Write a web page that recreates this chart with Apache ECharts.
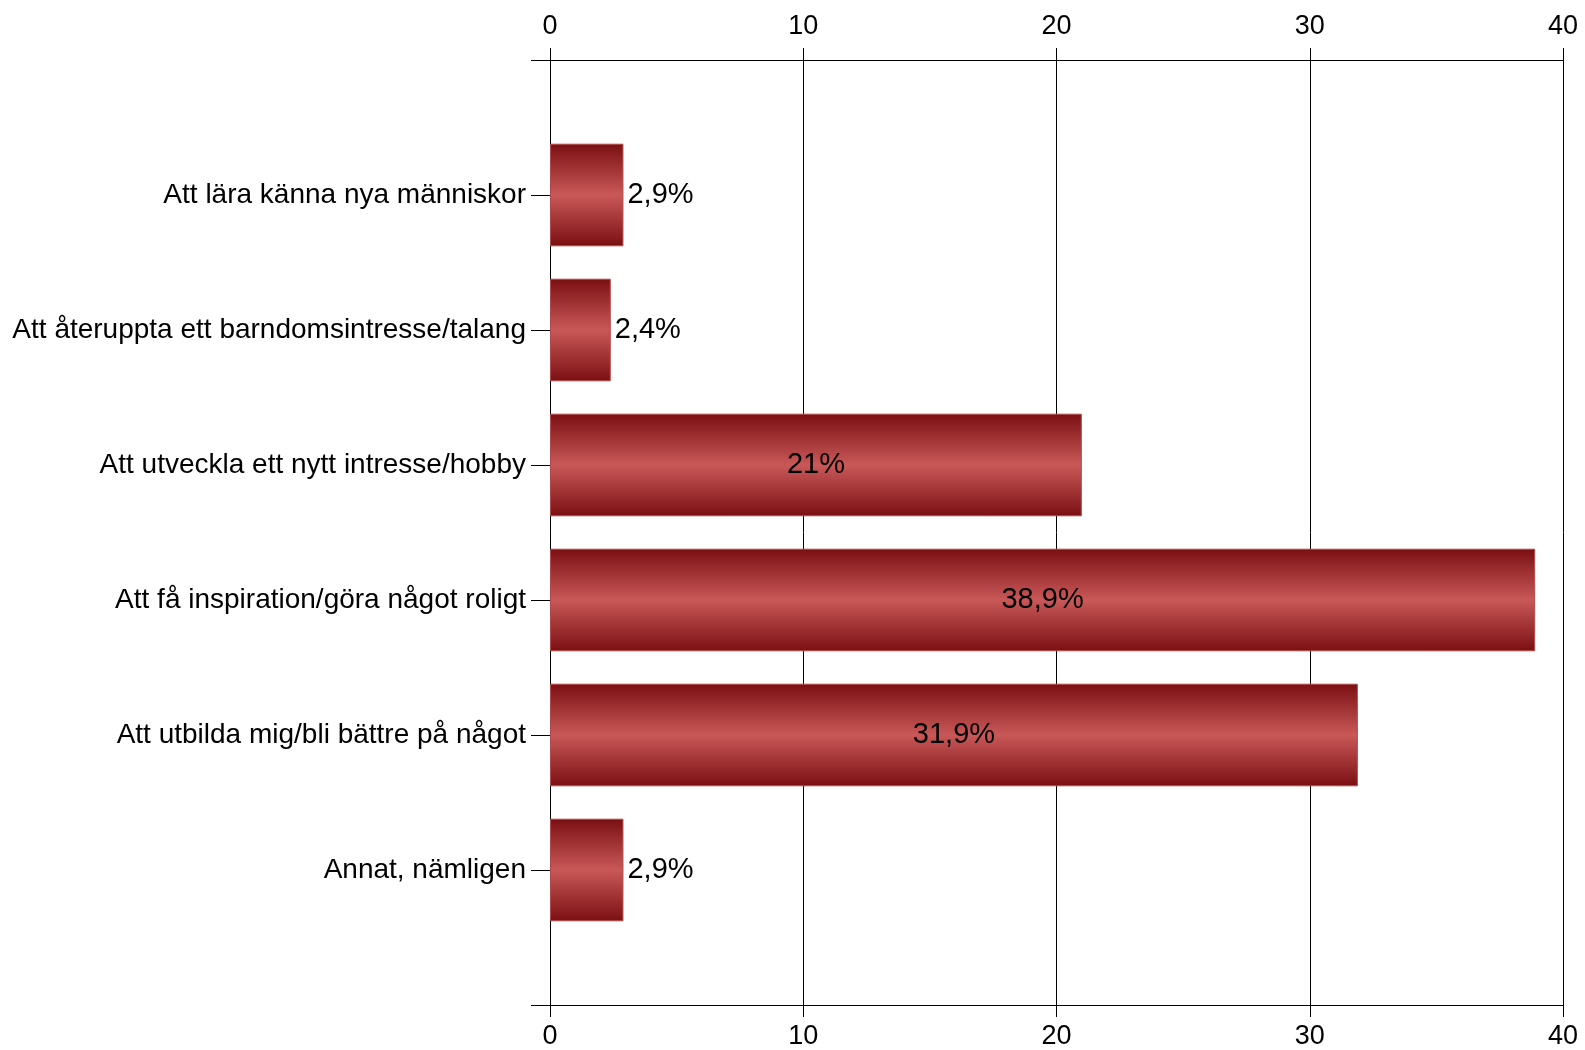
<!DOCTYPE html>
<html><head><meta charset="utf-8">
<script src="https://cdn.jsdelivr.net/npm/echarts@6/dist/echarts.min.js"></script>
<style>html,body{margin:0;padding:0;background:#fff}#c{width:1585px;height:1050px}</style>
</head><body><div id="c"></div>
<script>
const categories = [
  'Att lära känna nya människor',
  'Att återuppta ett barndomsintresse/talang',
  'Att utveckla ett nytt intresse/hobby',
  'Att få inspiration/göra något roligt',
  'Att utbilda mig/bli bättre på något',
  'Annat, nämligen'
];
const values = [2.9, 2.4, 21, 38.9, 31.9, 2.9];
const labelPositions = ['right', 'right', 'inside', 'inside', 'inside', 'right'];
const xTicks = [0, 10, 20, 30, 40];

const font = '"Liberation Sans", Arial, sans-serif';
const chart = echarts.init(document.getElementById('c'));
const barGrad = new echarts.graphic.LinearGradient(0, 0, 0, 1, [
  {offset: 0, color: '#7a0f12'},
  {offset: 0.5, color: '#c95858'},
  {offset: 1, color: '#7a0f12'}
]);
const xCommon = {
  type: 'value', min: xTicks[0], max: xTicks[xTicks.length - 1], interval: xTicks[1] - xTicks[0],
  axisLine: {show: true, lineStyle: {color: '#000', width: 1}},
  axisTick: {show: true, length: 12, lineStyle: {color: '#000'}},
  axisLabel: {color: '#000', fontSize: 27, fontFamily: font},
};
chart.setOption({
  animation: false,
  backgroundColor: '#fff',
  grid: {left: 550, right: 22, top: 60, bottom: 44},
  xAxis: [
    Object.assign({}, xCommon, {position: 'top', axisLabel: Object.assign({}, xCommon.axisLabel, {margin: 20}),
      splitLine: {show: true, lineStyle: {color: '#000', width: 1}}}),
    Object.assign({}, xCommon, {position: 'bottom', axisLabel: Object.assign({}, xCommon.axisLabel, {margin: 18}),
      splitLine: {show: false}})
  ],
  yAxis: {
    type: 'category', data: categories, inverse: true, boundaryGap: false,
    min: -1, max: categories.length,
    axisLine: {show: true, lineStyle: {color: '#000', width: 1}},
    axisTick: {show: true, length: 19, interval: 0, lineStyle: {color: '#000'}},
    axisLabel: {
      interval: 0, color: '#000', fontSize: 28, fontFamily: font, margin: 24,
      formatter: v => (typeof v === 'string' ? v : '')
    },
    splitLine: {show: false}
  },
  series: [{
    type: 'bar', xAxisIndex: 0, barWidth: '76%',
    data: values.map((v, i) => ({
      value: v,
      label: {position: labelPositions[i], distance: 4}
    })),
    itemStyle: {color: barGrad, borderColor: '#b04a4a', borderWidth: 1},
    label: {
      show: true, color: '#000', fontSize: 29, fontFamily: font,
      formatter: p => String(p.value).replace('.', ',') + '%'
    }
  }]
});
</script></body></html>
